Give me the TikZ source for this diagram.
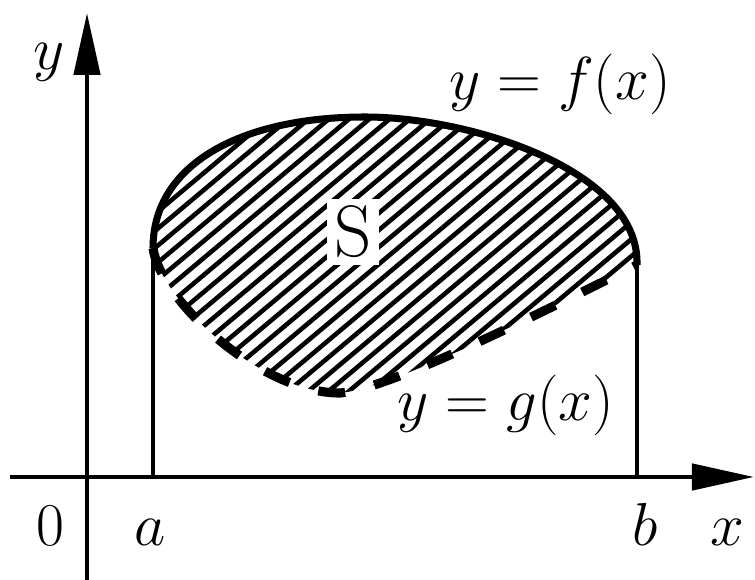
\documentclass[tikz,border=0pt]{standalone}
\usepackage{amsmath}
\usepackage{tikz}
\usetikzlibrary{arrows.meta}

\begin{document}
\begin{tikzpicture}[
    axis/.style={line width=1.3pt, -{Triangle[length=6.2mm, width=2.6mm]}},
    bound/.style={line width=1pt},
    fcurve/.style={line width=2pt},
    gcurve/.style={line width=2.6pt, dash pattern=on 0.27cm off 0.3cm},
    hatch/.style={line width=1.3pt},
    lab/.style={font=\LARGE, inner sep=0pt}
  ]
    \useasboundingbox (0,0) rectangle (7.55,5.8);

    % Points
    \coordinate (xstart) at (0.10,1.03);
    \coordinate (xend) at (7.54,1.03);
    \coordinate (ystart) at (0.87,0);
    \coordinate (yend) at (0.87,5.67);
    \coordinate (A) at (1.53,3.32);
    \coordinate (B) at (6.37,3.15);
    \coordinate (Afoot) at (1.53,1.03);
    \coordinate (Bfoot) at (6.37,1.03);
    \coordinate (top) at (3.65,4.63);
    \coordinate (low) at (3.40,1.87);

    % Hatching
    \begin{scope}
      \clip (A) .. controls (1.53,4.15) and (2.4,4.63) .. (top)
                .. controls (4.7,4.63) and (6.40,4.1) .. (B)
                .. controls (5.55,2.75) and (3.95,1.92) .. (low)
                .. controls (2.6,1.87) and (1.6,2.8) .. (A);
      \foreach \c in {-2.4,-2.23,...,2.8}
        \draw[hatch] (1.4,1.175+\c) -- ++(40:7);
    \end{scope}

    % Axes
    \draw[axis] (xstart) -- (xend);
    \draw[axis] (ystart) -- (yend);

    % Bounds
    \draw[bound] (Afoot) -- (A);
    \draw[bound] (Bfoot) -- (B);

    % Curves
    \draw[fcurve] (A) .. controls (1.53,4.15) and (2.4,4.63) .. (top)
                      .. controls (4.7,4.63) and (6.40,4.1) .. (B);
    \draw[gcurve] (A) .. controls (1.6,2.8) and (2.6,1.87) .. (low)
                      .. controls (3.95,1.92) and (5.55,2.75) .. (B);

    % Labels
    \node[lab, font=\huge, fill=white, inner sep=2pt] (area) at (3.53,3.48) {S};
    \node[lab] (flab) at (5.60,4.96) {$y = f(x)$};
    \node[lab] (glab) at (5.06,1.75) {$y = g(x)$};
    \node[lab, anchor=base] (ylab) at (0.49,5.10) {$y$};
    \node[lab, anchor=base] (xlab) at (7.27,0.34) {$x$};
    \node[lab, anchor=base] (zero) at (0.50,0.34) {$0$};
    \node[lab, anchor=base] (alab) at (1.50,0.34) {$a$};
    \node[lab, anchor=base] (blab) at (6.45,0.34) {$b$};
  \end{tikzpicture}
\end{document}
